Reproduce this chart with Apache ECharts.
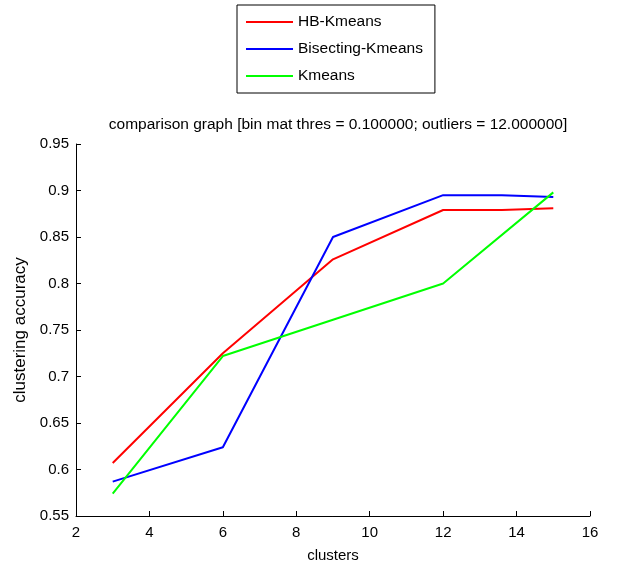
<!DOCTYPE html>
<html>
<head>
<meta charset="utf-8">
<script src="https://cdn.jsdelivr.net/npm/echarts@6/dist/echarts.min.js"></script>
<style>
  html, body { margin: 0; padding: 0; background: #fff; }
  #main { width: 619px; height: 565px; }
</style>
</head>
<body>
<div id="main"></div>
<script>
var chartDom = document.getElementById('main');
var myChart = echarts.init(chartDom);
var option;

// values
const seriesNames = ['HB-Kmeans', 'Bisecting-Kmeans', 'Kmeans'];
const hbKmeans = [[3, 0.607], [6, 0.725], [9, 0.826], [12, 0.879], [13.6, 0.879], [13.6, 0.881], [15, 0.881]];
const bisectingKmeans = [[3, 0.587], [6, 0.624], [9, 0.85], [12, 0.895], [13.6, 0.895], [13.6, 0.893], [15, 0.893]];
const kmeans = [[3, 0.574], [6, 0.722], [9, 0.761], [12, 0.8], [15, 0.898]];
const lineColors = ['#ff0000', '#0000ff', '#00ff00'];

const font = 'Liberation Sans, Arial, sans-serif';

function makeSeries(name, data, color) {
  return {
    name: name,
    type: 'line',
    data: data,
    showSymbol: false,
    symbol: 'none',
    animation: false,
    lineStyle: { color: color, width: 2 },
    itemStyle: { color: color }
  };
}

option = {
  animation: false,
  title: {
    text: 'comparison graph [bin mat thres = 0.100000; outliers = 12.000000]',
    left: 333,
    textAlign: 'center',
    top: 112,
    textStyle: { fontFamily: font, fontSize: 15.5, fontWeight: 'normal', color: '#000' }
  },
  legend: {
    orient: 'vertical',
    left: 237,
    top: 5,
    padding: [7, 12, 7, 9],
    itemGap: 7,
    itemWidth: 47,
    itemHeight: 2,
    icon: 'rect',
    borderColor: '#000',
    borderWidth: 1,
    data: seriesNames,
    textStyle: { fontFamily: font, fontSize: 15.5, color: '#000', lineHeight: 20 }
  },
  grid: { left: 76, right: 29, top: 144, bottom: 49, outerBoundsMode: 'none' },
  xAxis: {
    type: 'value',
    min: 2,
    max: 16,
    interval: 2,
    name: 'clusters',
    nameLocation: 'middle',
    nameGap: 32,
    nameTextStyle: { fontFamily: font, fontSize: 15, color: '#000' },
    axisLine: { lineStyle: { color: '#000', width: 1 } },
    axisTick: { inside: true, length: 5, lineStyle: { color: '#000' } },
    axisLabel: { fontFamily: font, fontSize: 15, color: '#000', margin: 9 },
    splitLine: { show: false }
  },
  yAxis: {
    type: 'value',
    min: 0.55,
    max: 0.95,
    interval: 0.05,
    name: 'clustering accuracy',
    nameLocation: 'middle',
    nameGap: 45,
    nameTextStyle: { fontFamily: font, fontSize: 17, color: '#000' },
    axisLine: { show: true, lineStyle: { color: '#000', width: 1 } },
    axisTick: { show: true, inside: true, length: 5, lineStyle: { color: '#000' } },
    axisLabel: {
      fontFamily: font,
      fontSize: 15,
      color: '#000',
      margin: 7,
      formatter: function (v) { return String(Math.round(v * 100) / 100); }
    },
    splitLine: { show: false }
  },
  series: [
    makeSeries(seriesNames[0], hbKmeans, lineColors[0]),
    makeSeries(seriesNames[1], bisectingKmeans, lineColors[1]),
    makeSeries(seriesNames[2], kmeans, lineColors[2])
  ]
};

option && myChart.setOption(option);
</script>
</body>
</html>
